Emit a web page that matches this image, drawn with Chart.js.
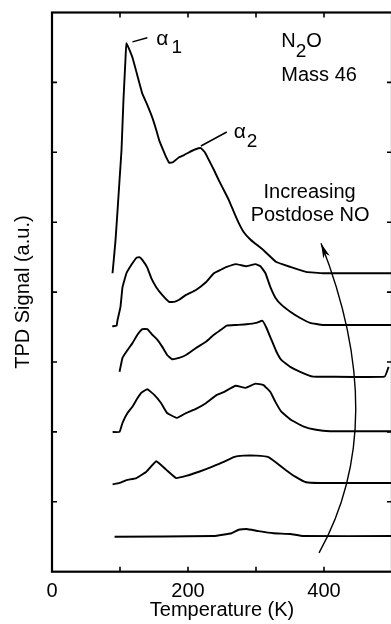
<!DOCTYPE html>
<html>
<head>
<meta charset="utf-8">
<script src="https://cdn.jsdelivr.net/npm/chart.js@4.4.1/dist/chart.umd.min.js"></script>
<style>
  html, body { margin: 0; padding: 0; background: #fff; overflow: hidden; }
  #wrap { width: 400px; height: 624px; }
</style>
</head>
<body>
<div id="wrap"><canvas id="tpd" width="400" height="624"></canvas></div>
<script>
// TPD spectra of N2O (mass 46), from lowest postdose NO (dose1) to highest (dose6)
const dose1T = [92, 238, 264.2, 274.5, 286.1, 303.6, 325.6, 350.4, 369.3, 500];
const dose1S = [0.50, 0.51, 0.55, 0.60, 0.61, 0.58, 0.55, 0.54, 0.51, 0.51];

const dose2T = [89.1, 99.3, 109.5, 124.1, 138.7, 153.3, 167.9, 182.5, 197.1, 216.1, 235, 252.6, 267.2, 281.8, 300.7, 318.3, 329.9, 343.1, 357.7, 373.7, 394.2, 500];
const dose2S = [1.25, 1.27, 1.31, 1.34, 1.43, 1.58, 1.46, 1.34, 1.37, 1.43, 1.50, 1.57, 1.64, 1.66, 1.66, 1.64, 1.56, 1.46, 1.36, 1.28, 1.27, 1.27];

const dose3T = [89.1, 99.3, 103.7, 111, 118.3, 125.6, 131.4, 140.2, 150.4, 160.6, 169.3, 183.9, 197.1, 211.7, 226.3, 242.3, 252.6, 270.1, 284.7, 299.3, 311, 321.2, 328.5, 337.2, 351.8, 369.3, 388.3, 408.8, 500];
const dose3S = [2.00, 2.00, 2.13, 2.27, 2.36, 2.48, 2.56, 2.61, 2.53, 2.41, 2.27, 2.20, 2.27, 2.33, 2.41, 2.53, 2.57, 2.66, 2.63, 2.69, 2.67, 2.57, 2.43, 2.29, 2.17, 2.08, 2.03, 2.01, 2.01];

const dose4T = [99.3, 103.7, 111, 118.3, 125.6, 132.9, 140.2, 147.5, 154.8, 162, 169.3, 176.6, 186.9, 197.1, 211.7, 226.3, 238, 248.2, 256.9, 271.5, 286.1, 300.7, 309.5, 315.3, 322.6, 329.9, 337.2, 350.4, 365, 384, 403, 489, 495];
const dose4S = [2.86, 3.06, 3.17, 3.27, 3.39, 3.47, 3.47, 3.39, 3.32, 3.22, 3.10, 3.04, 3.06, 3.10, 3.20, 3.29, 3.39, 3.46, 3.52, 3.53, 3.54, 3.56, 3.59, 3.49, 3.32, 3.15, 3.03, 2.93, 2.86, 2.79, 2.79, 2.79, 2.93];

const dose5T = [88.6, 94.9, 96.4, 100.7, 103.7, 109.5, 116.8, 124.1, 128.5, 132.8, 140.1, 146, 153.3, 162, 172.3, 179.6, 186.9, 197.1, 211.7, 226.3, 238, 248.2, 256.9, 270.1, 286.1, 299.3, 306.6, 313.9, 321.2, 328.5, 337.2, 350.4, 365, 379.6, 398.5, 500];
const dose5S = [3.51, 3.52, 3.60, 3.79, 4.07, 4.27, 4.39, 4.49, 4.50, 4.46, 4.35, 4.20, 4.07, 3.96, 3.86, 3.86, 3.89, 3.96, 4.03, 4.14, 4.27, 4.32, 4.36, 4.40, 4.37, 4.40, 4.37, 4.27, 4.07, 3.92, 3.82, 3.72, 3.63, 3.56, 3.53, 3.53];

const dose6T = [89, 93.4, 96.4, 99.3, 102.2, 105.1, 108, 109.5, 118.2, 125.5, 132.8, 140.1, 147.4, 153.3, 157.7, 163.5, 167.9, 172.3, 178.1, 186.9, 194.2, 201.5, 210.2, 219, 224.8, 230.7, 238, 245.3, 252.6, 259.9, 267.2, 274.5, 281.8, 292, 311, 329.9, 350.4, 373.7, 398.5, 500];
const dose6S = [4.27, 4.74, 5.17, 5.60, 6.03, 6.75, 7.32, 7.56, 7.36, 7.10, 6.84, 6.68, 6.50, 6.32, 6.17, 6.03, 5.93, 5.85, 5.86, 5.93, 5.96, 6.00, 6.04, 6.06, 6.00, 5.89, 5.75, 5.60, 5.46, 5.32, 5.15, 4.99, 4.86, 4.75, 4.60, 4.43, 4.36, 4.29, 4.27, 4.27];

const xTickValues = [0, 100, 200, 300, 400, 500];
const xTickLabels = ['0', '', '200', '', '400', ''];
const yTickValues = [0, 1, 2, 3, 4, 5, 6, 7, 8];

const FONTE = '"Liberation Sans", Arial, sans-serif';

const series = [
  [dose1T, dose1S], [dose2T, dose2S], [dose3T, dose3S],
  [dose4T, dose4S], [dose5T, dose5S], [dose6T, dose6S]
];

const datasets = series.map(([t, s], i) => ({
  label: 'dose ' + (i + 1),
  data: t.map((v, k) => ({ x: v, y: s[k] })),
  borderColor: '#000',
  borderWidth: 1.9,
  pointRadius: 0,
  tension: 0.1,
  fill: false
}));

// texto com subscrito (alfa1, N2O...)
function textoSub(ctx, partes, x, y) {
  let cx = x;
  partes.forEach(p => {
    ctx.font = p.size + 'px ' + FONTE;
    ctx.fillText(p.t, cx, y + (p.dy || 0));
    cx += ctx.measureText(p.t).width + (p.gap || 0);
  });
}

const anotacoes = {
  id: 'anotacoes',
  afterDraw(chart) {
    const { ctx, chartArea: a, scales: { x, y } } = chart;
    const px = v => x.getPixelForValue(v);
    const py = v => y.getPixelForValue(v);
    ctx.save();
    ctx.strokeStyle = '#000';
    ctx.fillStyle = '#000';

    // moldura
    ctx.lineWidth = 2.2;
    ctx.strokeRect(a.left, a.top, a.right - a.left, a.bottom - a.top);

    // ticks para dentro
    ctx.lineWidth = 1.6;
    ctx.beginPath();
    xTickValues.slice(1, -1).forEach(t => {
      const xx = px(t);
      ctx.moveTo(xx, a.bottom); ctx.lineTo(xx, a.bottom - 5);
      ctx.moveTo(xx, a.top); ctx.lineTo(xx, a.top + 5);
    });
    yTickValues.slice(1, -1).forEach(v => {
      const yy = py(v);
      ctx.moveTo(a.left, yy); ctx.lineTo(a.left + 5, yy);
      ctx.moveTo(a.right, yy); ctx.lineTo(a.right - 5, yy);
    });
    ctx.stroke();

    // linhas-guia dos picos
    ctx.lineWidth = 1.5;
    ctx.beginPath();
    ctx.moveTo(px(118.3), py(7.58)); ctx.lineTo(px(140.2), py(7.64));
    ctx.moveTo(px(219), py(6.09)); ctx.lineTo(px(257), py(6.29));
    ctx.stroke();

    // seta curva "Increasing Postdose NO"
    const p0 = { x: px(395.6), y: py(4.70) };
    const pm = { x: px(446.7), y: py(2.31) };
    const p2 = { x: px(392.7), y: py(0.27) };
    const c = { x: 2 * pm.x - (p0.x + p2.x) / 2, y: 2 * pm.y - (p0.y + p2.y) / 2 };
    ctx.lineWidth = 1.4;
    ctx.beginPath();
    ctx.moveTo(p2.x, p2.y);
    ctx.quadraticCurveTo(c.x, c.y, p0.x, p0.y);
    ctx.stroke();
    const ang = Math.atan2(p0.y - c.y, p0.x - c.x);
    ctx.beginPath();
    ctx.moveTo(p0.x, p0.y);
    ctx.lineTo(p0.x - 15 * Math.cos(ang) + 3.5 * Math.sin(ang), p0.y - 15 * Math.sin(ang) - 3.5 * Math.cos(ang));
    ctx.lineTo(p0.x - 11 * Math.cos(ang), p0.y - 11 * Math.sin(ang));
    ctx.lineTo(p0.x - 15 * Math.cos(ang) - 3.5 * Math.sin(ang), p0.y - 15 * Math.sin(ang) + 3.5 * Math.cos(ang));
    ctx.closePath();
    ctx.fill();

    // textos
    ctx.textBaseline = 'alphabetic';
    ctx.textAlign = 'left';
    textoSub(ctx, [{ t: 'α', size: 21, gap: 3 }, { t: '1', size: 19, dy: 8 }], px(153.3), py(7.535));
    textoSub(ctx, [{ t: 'α', size: 21, gap: 1 }, { t: '2', size: 19, dy: 9 }], px(267.2), py(6.205));
    textoSub(ctx, [{ t: 'N', size: 20 }, { t: '2', size: 19, dy: 10 }, { t: 'O', size: 20 }], px(337.2), py(7.506));
    ctx.font = '20px ' + FONTE;
    ctx.fillText('Mass 46', px(337.2), py(7.02));
    ctx.textAlign = 'center';
    ctx.fillText('Increasing', px(378.8), py(5.346));
    ctx.fillText('Postdose NO', px(379.6), py(5.017));
    ctx.restore();
  }
};

new Chart(document.getElementById('tpd'), {
  type: 'line',
  data: { datasets },
  plugins: [anotacoes],
  options: {
    responsive: false,
    animation: false,
    devicePixelRatio: 1,
    layout: { padding: { top: 12.5, right: 5.5, left: 0, bottom: 0 } },
    plugins: { legend: { display: false }, tooltip: { enabled: false } },
    scales: {
      x: {
        type: 'linear',
        min: 0,
        max: 500,
        afterFit: s => { s.height = 52.3; },
        afterBuildTicks: s => { s.ticks = xTickValues.map(v => ({ value: v })); },
        grid: { display: false, drawTicks: false },
        border: { display: false },
        ticks: {
          autoSkip: false,
          maxRotation: 0,
          padding: 8,
          color: '#000',
          font: { family: FONTE, size: 20 },
          callback: (v) => xTickLabels[xTickValues.indexOf(v)] ?? ''
        },
        title: {
          display: true,
          text: 'Temperature (K)',
          color: '#000',
          font: { family: FONTE, size: 20 },
          padding: { top: 0, bottom: 2 }
        }
      },
      y: {
        type: 'linear',
        min: 0,
        max: 8,
        afterFit: s => { s.width = 52; },
        grid: { display: false, drawTicks: false },
        border: { display: false },
        ticks: { display: false, stepSize: 1 },
        title: {
          display: true,
          text: 'TPD Signal (a.u.)',
          color: '#000',
          font: { family: FONTE, size: 20 },
          padding: { top: 11, bottom: 0 }
        }
      }
    }
  }
});
</script>
</body>
</html>
